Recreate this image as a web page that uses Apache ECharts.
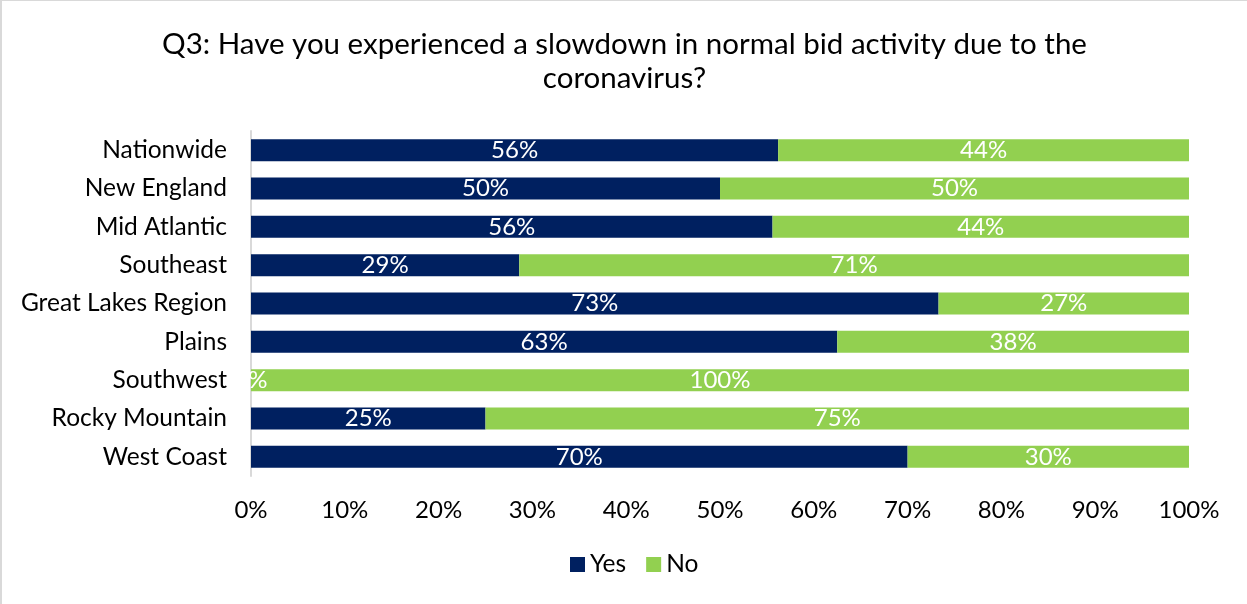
<!DOCTYPE html>
<html>
<head>
<meta charset="utf-8">
<script src="https://cdn.jsdelivr.net/npm/echarts@6/dist/echarts.min.js"></script>
<style>
  html, body { margin: 0; padding: 0; background: #fff; }
  #chart {
    width: 1245px; height: 603px;
    border-top: 1px solid #d9d9d9;
    border-left: 2px solid #d9d9d9;
  }
</style>
</head>
<body>
<div id="chart"></div>
<script>
// categories (top to bottom)
var regions = ["Nationwide", "New England", "Mid Atlantic", "Southeast",
  "Great Lakes Region", "Plains", "Southwest", "Rocky Mountain", "West Coast"];
// share of respondents, %
var yesValues = [56.2, 50, 55.6, 28.6, 73.3, 62.5, 0, 25, 70];
var noValues = [43.8, 50, 44.4, 71.4, 26.7, 37.5, 100, 75, 30];
var xTicks = [0, 10, 20, 30, 40, 50, 60, 70, 80, 90, 100];

var font = "Lato";
var chart = echarts.init(document.getElementById("chart"));

// label shows rounded percent
function pct(p) {
  return Math.round(p.value) + "%";
}

chart.setOption({
  animation: false,
  title: {
    text: "Q3: Have you experienced a slowdown in normal bid activity due to the\ncoronavirus?",
    left: "center",
    top: 21,
    textStyle: {
      fontFamily: font,
      fontWeight: "normal",
      fontSize: 29.5,
      color: "#000",
      lineHeight: 34,
    },
  },
  legend: {
    bottom: 22,
    left: 563,
    itemWidth: 15,
    itemHeight: 15,
    itemGap: 20,
    icon: "rect",
    textStyle: { fontFamily: font, fontSize: 24.5, color: "#000" },
    data: ["Yes", "No"],
  },
  grid: {
    left: 249,
    right: 58,
    top: 130,
    height: 345,
    containLabel: false,
  },
  xAxis: {
    type: "value",
    min: xTicks[0],
    max: xTicks[xTicks.length - 1],
    interval: 10,
    axisLine: { show: false },
    axisTick: { show: false },
    splitLine: { show: false },
    axisLabel: {
      margin: 22,
      fontFamily: font,
      fontSize: 24,
      color: "#000",
      formatter: function (v) { return v + "%"; },
    },
  },
  yAxis: {
    type: "category",
    inverse: true,
    data: regions,
    axisTick: { show: false },
    axisLine: { show: true, lineStyle: { color: "#d9d9d9", width: 2 } },
    axisLabel: {
      margin: 24,
      fontFamily: font,
      fontSize: 24.5,
      color: "#000",
    },
  },
  series: [
    {
      name: "Yes",
      type: "bar",
      stack: "all",
      data: yesValues,
      barWidth: 22,
      itemStyle: { color: "#002060" },
      label: {
        show: true,
        position: "inside",
        color: "#fff",
        fontFamily: font,
        fontSize: 24,
        formatter: pct,
      },
    },
    {
      name: "No",
      type: "bar",
      stack: "all",
      data: noValues,
      barWidth: 22,
      itemStyle: { color: "#92d050" },
      label: {
        show: true,
        position: "inside",
        color: "#fff",
        fontFamily: font,
        fontSize: 24,
        formatter: pct,
      },
    },
  ],
});
</script>
</body>
</html>
